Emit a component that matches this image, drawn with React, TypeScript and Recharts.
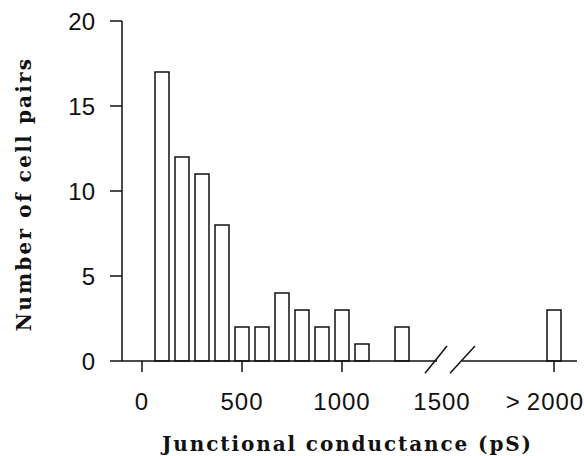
import { Bar, BarChart, Label, ReferenceLine, XAxis, YAxis } from "recharts";

// Histogramme : nombre de paires de cellules par classe de conductance jonctionnelle
const binCentres = [100, 200, 300, 400, 500, 600, 700, 800, 900, 1000, 1100, 1200, 1300, 2060];
const cellPairs = [17, 12, 11, 8, 2, 2, 4, 3, 2, 3, 1, 0, 2, 3];

const xTickValues = [0, 500, 1000, 1500, 2060];
const xTickLabels = ["0", "500", "1000", "1500", ">2000"];
const xTickMarked = [true, true, true, false, true];
const yTickValues = [0, 5, 10, 15, 20];

const data = binCentres.map((centre, i) => ({ centre, paires: cellPairs[i] }));

const TICK_SIZE = 11;
const TICK_MARGIN = 21;
const tickFont = "'Liberation Sans', Arial, sans-serif";
const titleFont = "'DejaVu Serif', serif";

function XTick(props: any) {
  const { x, y, payload, index } = props;
  const i = xTickValues.indexOf(payload.value);
  const label = xTickLabels[i] ?? String(payload.value);
  const axisY = y - TICK_MARGIN - TICK_SIZE;
  const isOver = label.startsWith(">");
  return (
    <g key={index}>
      {xTickMarked[i] && (
        <line x1={x} x2={x} y1={axisY} y2={axisY + TICK_SIZE} stroke="#111" strokeWidth={1.5} />
      )}
      <text
        x={x + (isOver ? -9 : 0)}
        y={y}
        dy="0.71em"
        textAnchor="middle"
        fontFamily={tickFont}
        fontSize={24}
        letterSpacing={1}
        fill="#111"
      >
        {isOver ? (
          <>
            <tspan>{">"}</tspan>
            <tspan dx={6}>{label.slice(1)}</tspan>
          </>
        ) : (
          label
        )}
      </text>
    </g>
  );
}

export default function App() {
  return (
    <div style={{ position: "absolute", left: 0, top: 0, width: 584, height: 456, background: "#fff" }}>
      <BarChart
        width={584}
        height={456}
        data={data}
        margin={{ top: 21, right: 7, left: 0, bottom: 0 }}
      >
        <XAxis
          type="number"
          dataKey="centre"
          domain={[-100, 2175]}
          ticks={xTickValues}
          interval={0}
          allowDataOverflow
          height={95}
          axisLine={false}
          tickLine={false}
          tickSize={TICK_SIZE}
          tickMargin={TICK_MARGIN}
          tick={<XTick />}
        >
          <Label
            content={({ viewBox }: any) => (
              <text
                x={viewBox.x + viewBox.width / 2 - 2}
                y={viewBox.y + 90}
                textAnchor="middle"
                fontFamily={titleFont}
                fontWeight="bold"
                fontSize={20}
                letterSpacing={1.9}
                fill="#111"
              >
                Junctional conductance (pS)
              </text>
            )}
          />
        </XAxis>
        <YAxis
          type="number"
          domain={[0, 20]}
          ticks={yTickValues}
          interval={0}
          width={122}
          axisLine={{ stroke: "#111", strokeWidth: 1.5 }}
          tickLine={{ stroke: "#111", strokeWidth: 1.5 }}
          tickSize={12}
          tickMargin={15}
          tick={{ fontFamily: tickFont, fontSize: 24, fill: "#111" }}
        >
          <Label
            content={({ viewBox }: any) => {
              const cx = viewBox.x + 31;
              const cy = viewBox.y + viewBox.height / 2 + 3;
              return (
                <text
                  x={cx}
                  y={cy}
                  transform={`rotate(-90 ${cx} ${cy})`}
                  textAnchor="middle"
                  fontFamily={titleFont}
                  fontWeight="bold"
                  fontSize={20}
                  letterSpacing={2.2}
                  fill="#111"
                >
                  Number of cell pairs
                </text>
              );
            }}
          />
        </YAxis>
        {/* axe horizontal interrompu + marques de coupure */}
        <ReferenceLine
          segment={[{ x: -100, y: 0 }, { x: 1475, y: 0 }]}
          stroke="#111"
          strokeWidth={1.5}
          ifOverflow="visible"
        />
        <ReferenceLine
          segment={[{ x: 1600, y: 0 }, { x: 2175, y: 0 }]}
          stroke="#111"
          strokeWidth={1.5}
          ifOverflow="visible"
        />
        <ReferenceLine
          segment={[{ x: 1415, y: -0.72 }, { x: 1525, y: 0.88 }]}
          stroke="#111"
          strokeWidth={1.5}
          ifOverflow="visible"
        />
        <ReferenceLine
          segment={[{ x: 1540, y: -0.72 }, { x: 1665, y: 0.88 }]}
          stroke="#111"
          strokeWidth={1.5}
          ifOverflow="visible"
        />
        <Bar
          dataKey="paires"
          barSize={14}
          fill="#fff"
          stroke="#111"
          strokeWidth={1.5}
          isAnimationActive={false}
        />
      </BarChart>
    </div>
  );
}
